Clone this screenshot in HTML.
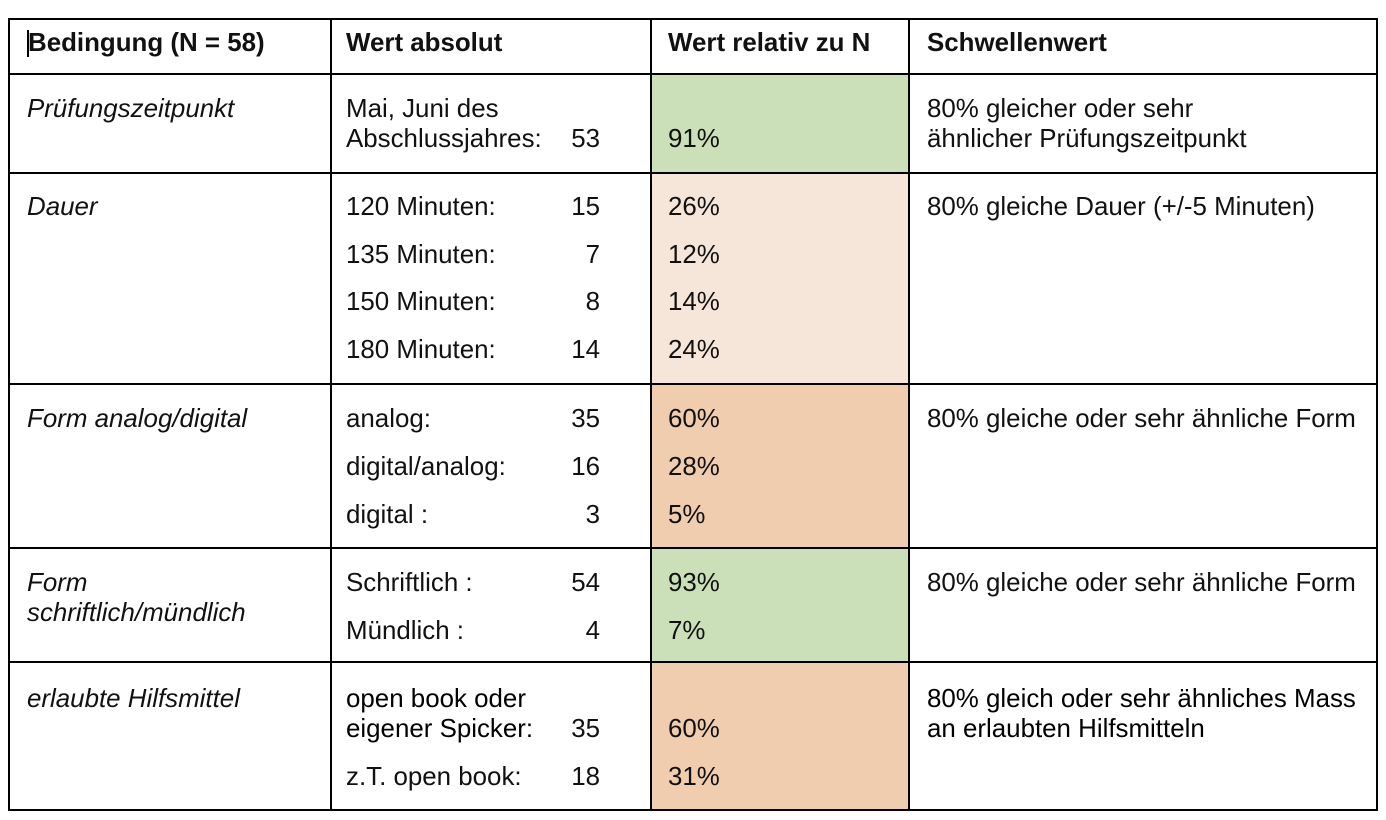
<!DOCTYPE html>
<html><head><meta charset="utf-8">
<style>
body{margin:0;width:1386px;height:820px;background:#fff;position:relative;overflow:hidden;font-family:"Liberation Sans",Arial,sans-serif;font-size:25.9px;color:#111;}
.c{position:absolute;}
.t{position:absolute;line-height:30px;white-space:nowrap;}
.h{font-weight:bold;}
.i{font-style:italic;}
.r{text-align:right;width:80px;}
.hl{position:absolute;background:#000;height:2px;left:8px;width:1370px;}
.vl{position:absolute;background:#000;width:2px;}
</style></head><body>
<div class="c" style="left:651px;top:74px;width:258px;height:99px;background:#cbe0b9"></div>
<div class="c" style="left:651px;top:173px;width:258px;height:211px;background:#f6e5d9"></div>
<div class="c" style="left:651px;top:384px;width:258px;height:164px;background:#f1cdb0"></div>
<div class="c" style="left:651px;top:548px;width:258px;height:114px;background:#cbe0b9"></div>
<div class="c" style="left:651px;top:662px;width:258px;height:148px;background:#f1cdb0"></div>

<div class="hl" style="top:18px"></div>
<div class="hl" style="top:73px"></div>
<div class="hl" style="top:172px"></div>
<div class="hl" style="top:383px"></div>
<div class="hl" style="top:547px"></div>
<div class="hl" style="top:661px"></div>
<div class="hl" style="top:809px"></div>
<div class="vl" style="left:8px;top:18px;height:793px"></div>
<div class="vl" style="left:330px;top:18px;height:793px"></div>
<div class="vl" style="left:650px;top:18px;height:793px"></div>
<div class="vl" style="left:908px;top:18px;height:793px"></div>
<div class="vl" style="left:1376px;top:18px;height:793px"></div>

<div class="c" style="left:27px;top:30px;width:2px;height:27px;background:#000"></div>
<div class="t h" style="left:28px;top:28px">Bedingung (N = 58)</div>
<div class="t h" style="left:346px;top:28px">Wert absolut</div>
<div class="t h" style="left:668px;top:28px">Wert relativ zu N</div>
<div class="t h" style="left:927px;top:28px">Schwellenwert</div>

<div class="t i" style="left:27px;top:94px">Prüfungszeitpunkt</div>
<div class="t" style="left:346px;top:94px">Mai, Juni des<br>Abschlussjahres:</div>
<div class="t r" style="left:520px;top:124px">53</div>
<div class="t" style="left:668px;top:124px">91%</div>
<div class="t" style="left:927px;top:94px">80% gleicher oder sehr<br>ähnlicher Prüfungszeitpunkt</div>

<div class="t i" style="left:27px;top:192px">Dauer</div>
<div class="t" style="left:346px;top:192px">120 Minuten:</div>
<div class="t r" style="left:520px;top:192px">15</div>
<div class="t" style="left:668px;top:192px">26%</div>
<div class="t" style="left:346px;top:240px">135 Minuten:</div>
<div class="t r" style="left:520px;top:240px">7</div>
<div class="t" style="left:668px;top:240px">12%</div>
<div class="t" style="left:346px;top:287px">150 Minuten:</div>
<div class="t r" style="left:520px;top:287px">8</div>
<div class="t" style="left:668px;top:287px">14%</div>
<div class="t" style="left:346px;top:335px">180 Minuten:</div>
<div class="t r" style="left:520px;top:335px">14</div>
<div class="t" style="left:668px;top:335px">24%</div>
<div class="t" style="left:927px;top:192px">80% gleiche Dauer (+/-5 Minuten)</div>

<div class="t i" style="left:27px;top:404px">Form analog/digital</div>
<div class="t" style="left:346px;top:404px">analog:</div>
<div class="t r" style="left:520px;top:404px">35</div>
<div class="t" style="left:668px;top:404px">60%</div>
<div class="t" style="left:346px;top:452px">digital/analog:</div>
<div class="t r" style="left:520px;top:452px">16</div>
<div class="t" style="left:668px;top:452px">28%</div>
<div class="t" style="left:346px;top:500px">digital :</div>
<div class="t r" style="left:520px;top:500px">3</div>
<div class="t" style="left:668px;top:500px">5%</div>
<div class="t" style="left:927px;top:404px">80% gleiche oder sehr ähnliche Form</div>

<div class="t i" style="left:27px;top:568px">Form<br>schriftlich/mündlich</div>
<div class="t" style="left:346px;top:568px">Schriftlich :</div>
<div class="t r" style="left:520px;top:568px">54</div>
<div class="t" style="left:668px;top:568px">93%</div>
<div class="t" style="left:346px;top:616px">Mündlich :</div>
<div class="t r" style="left:520px;top:616px">4</div>
<div class="t" style="left:668px;top:616px">7%</div>
<div class="t" style="left:927px;top:568px">80% gleiche oder sehr ähnliche Form</div>

<div class="t i" style="left:27px;top:684px">erlaubte Hilfsmittel</div>
<div class="t" style="left:346px;top:684px;color:#000">open book oder<br>eigener Spicker:</div>
<div class="t r" style="left:520px;top:714px">35</div>
<div class="t" style="left:668px;top:714px">60%</div>
<div class="t" style="left:346px;top:762px">z.T. open book:</div>
<div class="t r" style="left:520px;top:762px">18</div>
<div class="t" style="left:668px;top:762px">31%</div>
<div class="t" style="left:927px;top:684px;color:#000">80% gleich oder sehr ähnliches Mass<br>an erlaubten Hilfsmitteln</div>
</body></html>
